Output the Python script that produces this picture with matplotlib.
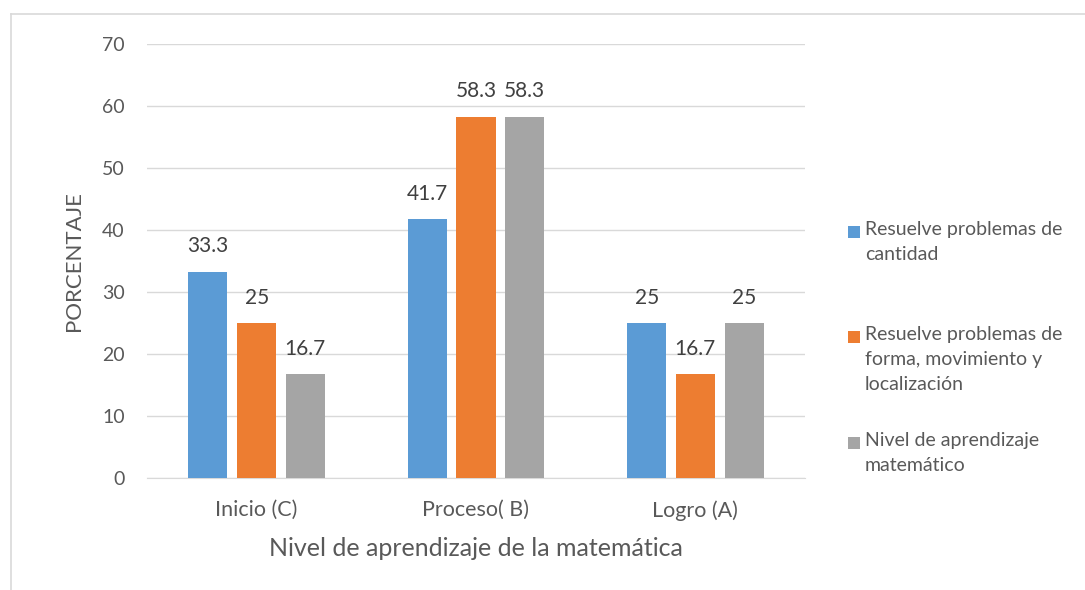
import matplotlib
matplotlib.use("Agg")
import matplotlib.pyplot as plt
import numpy as np
from matplotlib.patches import Rectangle
from matplotlib.lines import Line2D

categories = ["Inicio (C)", "Proceso( B)", "Logro (A)"]
series_names = ["Resuelve problemas de\ncantidad",
                "Resuelve problemas de\nforma, movimiento y\nlocalización",
                "Nivel de aprendizaje\nmatemático"]
cantidad = [33.3, 41.7, 25]
forma = [25, 58.3, 16.7]
nivel = [16.7, 58.3, 25]
labels_text = [["33.3", "41.7", "25"], ["25", "58.3", "16.7"], ["16.7", "58.3", "25"]]
colors = ["#5B9BD5", "#ED7D31", "#A5A5A5"]

plt.rcParams['font.family'] = ['Lato', 'DejaVu Sans']
txt = "#595959"

W, H = 1085, 590
fig = plt.figure(figsize=(W/100, H/100), dpi=100)
ax = fig.add_axes([147/W, 1-478/H, 658/W, 434/H])

x = np.arange(len(categories))
width = 0.178
offset = 0.222
for i, (vals, c) in enumerate(zip([cantidad, forma, nivel], colors)):
    pos = x + (i - 1) * offset
    bars = ax.bar(pos, vals, width=width, color=c, zorder=3)
    for b, t in zip(bars, labels_text[i]):
        ax.annotate(t, (b.get_x() + b.get_width()/2, b.get_height()),
                    xytext=(0, 11), textcoords="offset points",
                    ha="center", va="bottom", fontsize=15, color="#404040")

ax.set_xlim(-0.5, 2.5)
ax.set_ylim(0, 70)
ax.set_yticks(range(0, 71, 10))
ax.set_xticks(x)
ax.set_xticklabels(categories)
ax.tick_params(axis='both', length=0, colors=txt)
ax.tick_params(axis='y', labelsize=14, pad=16)
ax.tick_params(axis='x', labelsize=15.5, pad=16)
ax.grid(axis='y', color="#D9D9D9", linewidth=1, zorder=0)
for s in ["top", "right", "left"]:
    ax.spines[s].set_visible(False)
ax.spines["bottom"].set_color("#D9D9D9")
ax.set_ylabel("PORCENTAJE", fontsize=16, color=txt, labelpad=13)
ax.set_xlabel("Nivel de aprendizaje de la matemática", fontsize=18, color=txt, labelpad=12)

# legend (marker aligned with first line of each entry, as in the reference)
leg_tops = [221, 326, 432]
for name, c, top in zip(series_names, colors, leg_tops):
    fig.text(865/W, 1-top/H, name, ha="left", va="top", fontsize=14,
             color=txt, linespacing=1.58)
    fig.add_artist(Rectangle((848/W, 1-(top+17)/H), 12/W, 12/H, facecolor=c,
                             edgecolor='none', transform=fig.transFigure))

# chart border (left and top visible)
fig.add_artist(Line2D([11/W, 11/W], [0, 1-14/H], color="#D9D9D9", lw=1.2, transform=fig.transFigure))
fig.add_artist(Line2D([11/W, 1], [1-14/H, 1-14/H], color="#D9D9D9", lw=1.2, transform=fig.transFigure))

fig.savefig("out.png", dpi=100)
